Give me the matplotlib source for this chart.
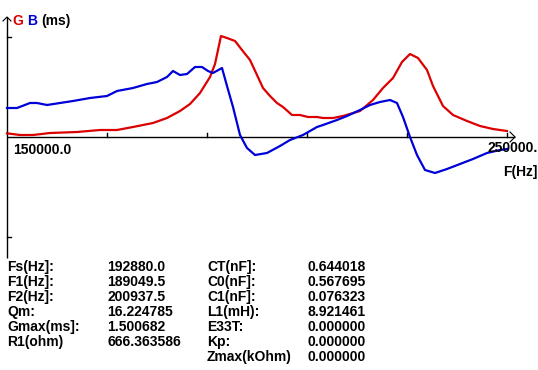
import matplotlib
matplotlib.use("Agg")
import matplotlib.pyplot as plt

# ---- data (frequency in Hz, G and B in ms) ----
g_freq = [150000, 152600, 155200, 158600, 164000, 168600, 172000, 175200, 179200, 182000,
          184600, 186600, 188600, 190600, 191600, 192800, 194000, 195600, 197000, 198600,
          200000, 201200, 202600, 204000, 205200, 207000, 208600, 210200, 212000, 213200,
          215200, 217200, 220600, 223200, 225200, 227200, 229000, 230600, 232200, 234000,
          235200, 237200, 239200, 242000, 244600, 247200, 250000]
g_vals = [0.055, 0.03, 0.03, 0.06, 0.075, 0.105, 0.105, 0.15, 0.21, 0.285,
          0.39, 0.495, 0.66, 0.90, 1.095, 1.515, 1.485, 1.44, 1.305, 1.155,
          0.93, 0.735, 0.615, 0.51, 0.45, 0.33, 0.33, 0.30, 0.30, 0.285,
          0.285, 0.315, 0.39, 0.555, 0.735, 0.885, 1.125, 1.245, 1.185, 1.005,
          0.765, 0.465, 0.33, 0.24, 0.165, 0.12, 0.09]

b_freq = [150000, 152000, 154600, 156000, 158000, 160600, 163200, 166600, 170000, 172000,
          175200, 178000, 180000, 182000, 183200, 184600, 186000, 187600, 189000, 190200,
          191200, 193000, 194000, 195200, 196600, 198000, 199600, 202000, 204600, 206600,
          209200, 212000, 213200, 216000, 218000, 220600, 222600, 224600, 226600, 228000,
          229200, 230600, 232000, 233600, 235600, 238000, 240600, 243200, 246000, 248600,
          250000]
b_vals = [0.435, 0.435, 0.51, 0.51, 0.48, 0.51, 0.54, 0.585, 0.615, 0.69,
          0.735, 0.795, 0.825, 0.90, 0.99, 0.93, 0.945, 1.05, 1.05, 0.99,
          0.96, 1.035, 0.765, 0.45, 0.03, -0.165, -0.27, -0.24, -0.135, -0.045,
          0.03, 0.15, 0.18, 0.255, 0.315, 0.405, 0.48, 0.525, 0.555, 0.51,
          0.30, 0.0, -0.27, -0.495, -0.54, -0.48, -0.405, -0.33, -0.24, -0.195,
          -0.18]

x_start, x_end = 150000, 250000
x_ticks = [170000, 190000, 210000, 230000, 250000]
y_ticks = [1.5, -1.5]
x_start_label = "150000.0"
x_end_label = "250000."

left_labels = ["Fs(Hz]:", "F1(Hz]:", "F2(Hz]:", "Qm:", "Gmax(ms]:", "R1(ohm)"]
left_values = ["192880.0", "189049.5", "200937.5", "16.224785", "1.500682", "666.363586"]
right_labels = ["CT(nF]:", "C0(nF]:", "C1(nF]:", "L1(mH):", "E33T:", "Kp:", "Zmax(kOhm)"]
right_values = ["0.644018", "0.567695", "0.076323", "8.921461", "0.000000", "0.000000", "0.000000"]

RED = "#dd0000"
BLUE = "#0000d8"
W, H = 538, 370

fig = plt.figure(figsize=(W / 100, H / 100), dpi=100)
ax = fig.add_axes([0, 0, 1, 1])
ax.set_xlim(148600, 256200)
ax.set_ylim(-3.495, 2.055)
ax.axis("off")

FONT = dict(family="Liberation Sans", weight="bold", size=10)

def px(x, y):
    return x / W, 1 - y / H

# axes lines
ax.plot([x_start, x_start], [-1.815, 1.80], color="black", lw=1.0, solid_capstyle="butt")
ax.plot([x_start, 251600], [0, 0], color="black", lw=1.0, solid_capstyle="butt")
# arrowheads
ax.plot([x_start - 800, x_start, x_start + 800], [1.74, 1.80, 1.74], color="black", lw=0.8)
ax.plot([250600, 251600, 250600], [0.075, 0, -0.075], color="black", lw=0.8)
# ticks
for t in x_ticks:
    ax.plot([t, t], [0, 0.06], color="black", lw=1.0)
for t in y_ticks:
    ax.plot([x_start, x_start + 800], [t, t], color="black", lw=1.0)

# curves
ax.plot(g_freq, g_vals, color=RED, lw=1.6)
ax.plot(b_freq, b_vals, color=BLUE, lw=1.6)

# header
fig.text(*px(12, 21), "G", color=RED, va="center", ha="left", **FONT)
fig.text(*px(27, 21), "B", color=BLUE, va="center", ha="left", **FONT)
fig.text(*px(41, 21), "(ms)", color="black", va="center", ha="left", **FONT)

fig.text(*px(13, 150), x_start_label, va="center", ha="left", **FONT)
fig.text(*px(487, 148), x_end_label, va="center", ha="left", **FONT)
fig.text(*px(537, 171.5), "F(Hz]", va="center", ha="right", **FONT)

for i, (l, v) in enumerate(zip(left_labels, left_values)):
    y = 267 + 15 * i
    fig.text(*px(7, y), l, va="center", ha="left", **FONT)
    fig.text(*px(107, y), v, va="center", ha="left", **FONT)
for i, (l, v) in enumerate(zip(right_labels, right_values)):
    y = 267 + 15 * i
    fig.text(*px(207, y), l, va="center", ha="left", **FONT)
    fig.text(*px(307, y), v, va="center", ha="left", **FONT)

fig.savefig("out.png", dpi=100)
